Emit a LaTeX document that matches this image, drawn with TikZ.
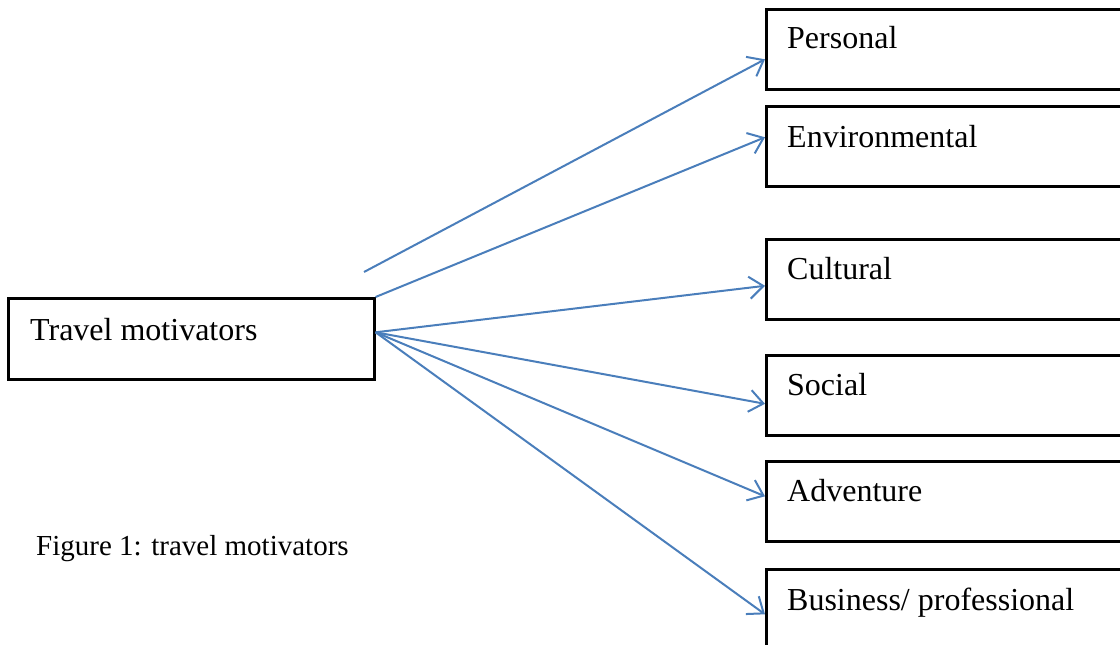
\documentclass[tikz,border=0pt]{standalone}
\usepackage{fontspec}
\setmainfont{Liberation Serif}
\usetikzlibrary{arrows.meta}
\definecolor{linkblue}{HTML}{4A7EBB}
\begin{document}
\begin{tikzpicture}[x=1pt,y=-1pt,
  box/.style={draw=black,line width=2.6pt,fill=white,inner sep=0pt,
    anchor=north west,minimum width=#1,minimum height=80pt},
  box/.default=380pt,
  label/.style={anchor=base west,inner sep=0pt,font=\fontsize{32}{36}\selectfont},
  link/.style={draw=linkblue,line width=2pt,
    -{Straight Barb[length=14pt,width=22pt,line width=2pt]}}]
\useasboundingbox (0,0) rectangle (1120,645);
\clip (0,0) rectangle (1120,645);

% source box
\node[box=366pt,minimum height=81pt] (src) at (7,297) {};
\node[label] (srct) at (30,340) {Travel motivators};

% motivator boxes
\node[box] (per) at (765,8) {};
\node[label] (pert) at (787,48) {Personal};
\node[box] (env) at (765,105) {};
\node[label] (envt) at (787,147) {Environmental};
\node[box] (cul) at (765,238) {};
\node[label] (cult) at (787,279) {Cultural};
\node[box] (soc) at (765,354) {};
\node[label] (soct) at (787,395) {Social};
\node[box] (adv) at (765,460) {};
\node[label] (advt) at (787,501) {Adventure};
\node[box] (bus) at (765,568) {};
\node[label] (bust) at (787,610) {Business/ professional};

% caption
\node[anchor=base west,inner sep=0pt,font=\fontsize{29}{34}\selectfont] (cap) at (36,555) {Figure 1: travel motivators};

% connectors
\coordinate (free) at (364,272);
\draw[link] (free) -- ([yshift=-10pt]per.west);
\draw[link] (src.north east) -- ([yshift=9pt]env.west);
\draw[link] ([yshift=6.5pt]src.east) -- ([yshift=-6.5pt]cul.west);
\draw[link] ([yshift=6.5pt]src.east) -- ([yshift=-8.5pt]soc.west);
\draw[link] ([yshift=6.5pt]src.east) -- ([yshift=5pt]adv.west);
\draw[link] ([yshift=6.5pt]src.east) -- ([yshift=-5pt]bus.west);
\end{tikzpicture}
\end{document}
